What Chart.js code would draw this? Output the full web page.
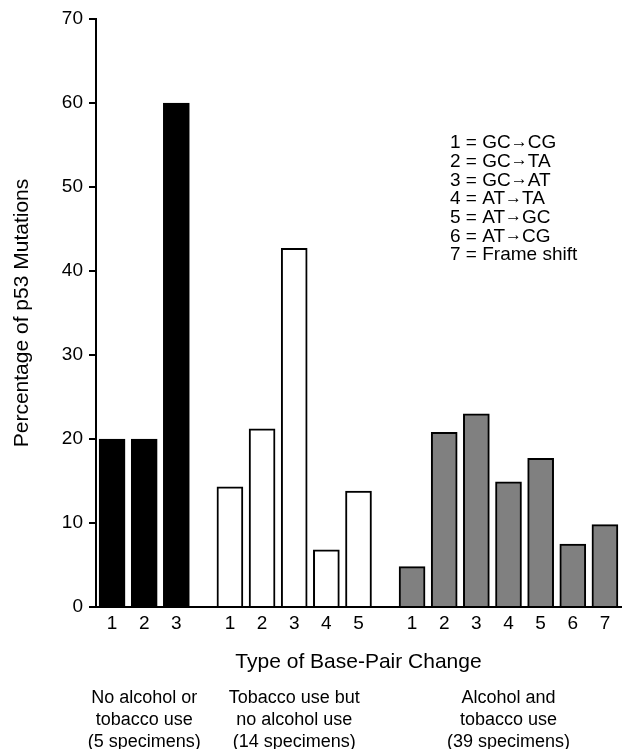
<!DOCTYPE html>
<html lang="en">
<head>
    <meta charset="UTF-8">
    <title>p53 Mutations</title>
    <script src="https://cdn.jsdelivr.net/npm/chart.js"></script>
    <style>
        body {
            margin: 0;
            background: white;
        }
        #wrap {
            width: 630px;
            height: 749px;
            position: relative;
        }
    </style>
</head>
<body>
    <div id="wrap">
        <canvas id="mutationChart"></canvas>
    </div>

    <script>
        // values (percent of p53 mutations)
        const noUseValues = [20, 20, 60];
        const tobaccoOnlyValues = [14.3, 21.2, 42.7, 6.8, 13.8];
        const bothValues = [4.8, 20.8, 23.0, 14.9, 17.7, 7.5, 9.8];

        const noUseTicks = ['1', '2', '3'];
        const tobaccoOnlyTicks = ['1', '2', '3', '4', '5'];
        const bothTicks = ['1', '2', '3', '4', '5', '6', '7'];

        const groupLabels = [
            ['No alcohol or', 'tobacco use', '(5 specimens)'],
            ['Tobacco use but', 'no alcohol use', '(14 specimens)'],
            ['Alcohol and', 'tobacco use', '(39 specimens)']
        ];

        const keyCodes = ['1', '2', '3', '4', '5', '6', '7'];
        const keyFrom = ['GC', 'GC', 'GC', 'AT', 'AT', 'AT', 'Frame shift'];
        const keyTo = ['CG', 'TA', 'AT', 'TA', 'GC', 'CG', ''];

        const FONT = "'Liberation Sans', Arial, sans-serif";

        // the category axis is cut into thin slots: bars sit every 3 slots,
        // and 5 slots apart between groups, which gives the narrower group gap
        const groups = [
            { ticks: noUseTicks, values: noUseValues },
            { ticks: tobaccoOnlyTicks, values: tobaccoOnlyValues },
            { ticks: bothTicks, values: bothValues }
        ];
        const labels = [''];
        const series = groups.map(() => [null]);
        const groupMiddles = [];

        function emptySlot() {
            labels.push('');
            series.forEach(s => s.push(null));
        }

        groups.forEach((grp, g) => {
            grp.ticks.forEach((t, i) => {
                if (i === Math.floor((grp.ticks.length - 1) / 2)) {
                    groupMiddles.push(labels.length);
                }
                labels.push(t);
                series.forEach((s, k) => s.push(k === g ? grp.values[i] : null));
                let fill;
                if (i < grp.ticks.length - 1) fill = 2;
                else if (g < groups.length - 1) fill = 4;
                else fill = 1;
                for (let f = 0; f < fill; f++) emptySlot();
            });
        });

        const textPlugin = {
            id: 'extraText',
            afterDraw(chart) {
                const ctx = chart.ctx;
                const xScale = chart.scales.x;
                ctx.save();
                ctx.fillStyle = '#000';

                // group captions under the axis title
                ctx.font = '18px ' + FONT;
                ctx.textAlign = 'center';
                ctx.textBaseline = 'middle';
                groupLabels.forEach((lines, g) => {
                    const cx = xScale.getPixelForValue(groupMiddles[g]);
                    lines.forEach((line, i) => {
                        ctx.fillText(line, cx, 698 + i * 22);
                    });
                });

                // key of mutation types
                ctx.textAlign = 'left';
                keyCodes.forEach((code, i) => {
                    const y = 143 + i * 18.7;
                    let x = 450;
                    ctx.font = '19px ' + FONT;
                    const head = code + ' = ' + keyFrom[i];
                    ctx.fillText(head, x, y);
                    x += ctx.measureText(head).width;
                    if (keyTo[i]) {
                        ctx.font = '17px ' + FONT;
                        ctx.fillText('\u2192', x, y - 1);
                        x += ctx.measureText('\u2192').width;
                        ctx.font = '19px ' + FONT;
                        ctx.fillText(keyTo[i], x, y);
                    }
                });
                ctx.restore();
            }
        };

        const barStyle = {
            borderColor: '#000',
            borderWidth: 2,
            barThickness: 26,
            grouped: false
        };

        new Chart(document.getElementById('mutationChart'), {
            type: 'bar',
            data: {
                labels: labels,
                datasets: [
                    { label: 'No alcohol or tobacco use', data: series[0], backgroundColor: '#000', ...barStyle },
                    { label: 'Tobacco use but no alcohol use', data: series[1], backgroundColor: '#fff', ...barStyle },
                    { label: 'Alcohol and tobacco use', data: series[2], backgroundColor: '#808080', ...barStyle }
                ]
            },
            options: {
                responsive: true,
                maintainAspectRatio: false,
                animation: false,
                layout: {
                    padding: { top: 19, right: 9, left: 0, bottom: 0 }
                },
                plugins: {
                    legend: { display: false },
                    tooltip: { enabled: false }
                },
                scales: {
                    x: {
                        grid: { display: false, drawTicks: false },
                        border: { display: true, color: '#000', width: 2 },
                        ticks: {
                            color: '#000',
                            font: { family: FONT, size: 19 },
                            padding: 5,
                            maxRotation: 0,
                            autoSkip: false
                        },
                        title: {
                            display: true,
                            text: 'Type of Base-Pair Change',
                            color: '#000',
                            font: { family: FONT, size: 21 },
                            padding: { top: 0, bottom: 74 }
                        },
                        afterFit(scale) { scale.height = 142; }
                    },
                    y: {
                        min: 0,
                        max: 70,
                        ticks: {
                            stepSize: 10,
                            color: '#000',
                            font: { family: FONT, size: 19 },
                            padding: 6
                        },
                        grid: {
                            drawOnChartArea: false,
                            drawTicks: true,
                            tickLength: 7,
                            color: '#000',
                            lineWidth: 2
                        },
                        border: { display: true, color: '#000', width: 2 },
                        title: {
                            display: true,
                            text: 'Percentage of p53 Mutations',
                            color: '#000',
                            font: { family: FONT, size: 21 },
                            padding: { top: 10, bottom: 0 }
                        },
                        afterFit(scale) { scale.width = 96; }
                    }
                }
            },
            plugins: [textPlugin]
        });
    </script>
</body>
</html>
